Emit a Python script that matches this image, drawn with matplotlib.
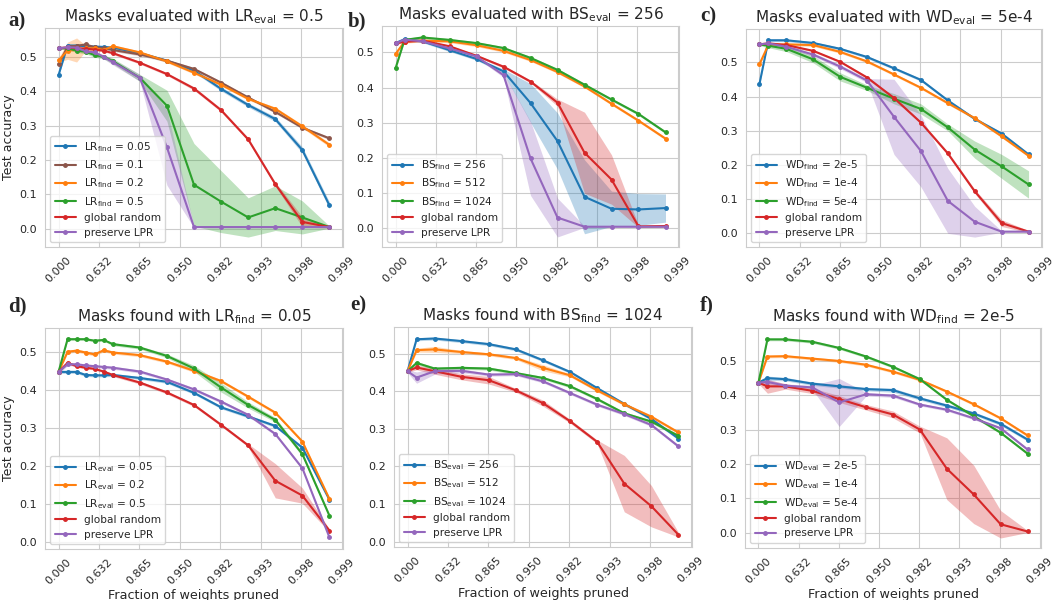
import numpy as np
import matplotlib
matplotlib.use('Agg')
import matplotlib.pyplot as plt
import seaborn as sns

sns.set_style('whitegrid')
plt.rcParams['font.family'] = ['DejaVu Sans']

# fraction of weights pruned at each evaluation point
frac_dense = [0.0, 0.2, 0.36, 0.488, 0.5904, 0.67232, 0.737856, 0.865782, 0.931281,
              0.964816, 0.981986, 0.990777, 0.995278, 0.997582, 0.998762]
frac_sparse = [0.0, 0.2, 0.488, 0.737856, 0.865782, 0.931281, 0.964816, 0.981986,
               0.990777, 0.995278, 0.997582, 0.998762]

# a) masks evaluated with LR_eval = 0.5
a_lr005 = [0.447, 0.533, 0.533, 0.531, 0.530, 0.529, 0.527, 0.511, 0.489, 0.460, 0.407, 0.360, 0.319, 0.229, 0.068]
a_lr01 = [0.478, 0.530, 0.532, 0.536, 0.528, 0.525, 0.520, 0.507, 0.489, 0.465, 0.425, 0.382, 0.340, 0.294, 0.263]
a_lr02 = [0.490, 0.518, 0.520, 0.525, 0.525, 0.520, 0.531, 0.513, 0.487, 0.454, 0.419, 0.378, 0.349, 0.298, 0.244]
a_lr05 = [0.525, 0.525, 0.518, 0.515, 0.505, 0.500, 0.488, 0.439, 0.358, 0.128, 0.079, 0.033, 0.060, 0.033, 0.005]
a_rand = [0.525, 0.528, 0.525, 0.524, 0.521, 0.518, 0.511, 0.483, 0.450, 0.408, 0.345, 0.260, 0.130, 0.020, 0.005]
a_lpr = [0.525, 0.528, 0.527, 0.516, 0.513, 0.500, 0.485, 0.439, 0.237, 0.005, 0.005, 0.005, 0.005, 0.005, 0.005]
a_lr005_sd = [0.003, 0.003, 0.003, 0.003, 0.003, 0.003, 0.003, 0.004, 0.004, 0.005, 0.006, 0.006, 0.007, 0.009, 0.010]
a_lr02_sd = [0.006, 0.025, 0.035, 0.008, 0.005, 0.004, 0.004, 0.004, 0.004, 0.004, 0.004, 0.004, 0.005, 0.005, 0.006]
a_lr05_sd = [0.003, 0.004, 0.005, 0.006, 0.006, 0.006, 0.008, 0.010, 0.045, 0.120, 0.090, 0.057, 0.065, 0.048, 0.003]
a_rand_sd = [0.003, 0.003, 0.003, 0.003, 0.003, 0.003, 0.004, 0.004, 0.004, 0.005, 0.005, 0.005, 0.006, 0.015, 0.003]
a_lpr_sd = [0.003, 0.003, 0.003, 0.005, 0.005, 0.006, 0.008, 0.010, 0.110, 0.002, 0.002, 0.002, 0.002, 0.002, 0.002]

# b) masks evaluated with BS_eval = 256
b_256 = [0.526, 0.537, 0.531, 0.506, 0.481, 0.446, 0.356, 0.248, 0.090, 0.056, 0.054, 0.058]
b_512 = [0.495, 0.530, 0.533, 0.531, 0.520, 0.504, 0.478, 0.444, 0.403, 0.354, 0.306, 0.255]
b_1024 = [0.454, 0.535, 0.542, 0.535, 0.526, 0.512, 0.484, 0.450, 0.408, 0.366, 0.325, 0.273]
b_rand = [0.525, 0.530, 0.533, 0.517, 0.490, 0.459, 0.417, 0.357, 0.215, 0.139, 0.006, 0.007]
b_lpr = [0.525, 0.536, 0.531, 0.511, 0.488, 0.435, 0.199, 0.031, 0.005, 0.005, 0.005, 0.005]
b_256_sd = [0.003, 0.004, 0.004, 0.004, 0.004, 0.006, 0.055, 0.080, 0.105, 0.050, 0.045, 0.040]
b_rand_sd = [0.003, 0.003, 0.003, 0.003, 0.003, 0.004, 0.004, 0.010, 0.115, 0.070, 0.003, 0.003]
b_lpr_sd = [0.003, 0.003, 0.003, 0.003, 0.004, 0.006, 0.105, 0.055, 0.002, 0.002, 0.002, 0.002]

# c) masks evaluated with WD_eval = 5e-4
c_2e5 = [0.437, 0.565, 0.565, 0.557, 0.540, 0.516, 0.483, 0.449, 0.389, 0.335, 0.292, 0.231]
c_1e4 = [0.495, 0.552, 0.553, 0.551, 0.531, 0.503, 0.465, 0.426, 0.381, 0.337, 0.284, 0.227]
c_5e4 = [0.553, 0.549, 0.540, 0.509, 0.458, 0.426, 0.394, 0.364, 0.310, 0.245, 0.196, 0.143]
c_rand = [0.553, 0.556, 0.551, 0.534, 0.502, 0.456, 0.396, 0.324, 0.234, 0.123, 0.030, 0.005]
c_lpr = [0.553, 0.556, 0.546, 0.523, 0.488, 0.447, 0.341, 0.241, 0.095, 0.034, 0.005, 0.005]
c_5e4_sd = [0.003, 0.006, 0.008, 0.010, 0.012, 0.008, 0.015, 0.015, 0.010, 0.025, 0.035, 0.040]
c_rand_sd = [0.003, 0.003, 0.003, 0.003, 0.003, 0.004, 0.004, 0.004, 0.005, 0.006, 0.010, 0.003]
c_lpr_sd = [0.003, 0.003, 0.004, 0.005, 0.006, 0.006, 0.110, 0.105, 0.095, 0.045, 0.002, 0.002]

# d) masks found with LR_find = 0.05
d_005 = [0.447, 0.447, 0.447, 0.439, 0.438, 0.438, 0.439, 0.431, 0.421, 0.392, 0.354, 0.330, 0.305, 0.248, 0.111]
d_02 = [0.447, 0.500, 0.503, 0.498, 0.493, 0.504, 0.498, 0.491, 0.474, 0.450, 0.423, 0.382, 0.340, 0.264, 0.113]
d_05 = [0.447, 0.533, 0.533, 0.533, 0.529, 0.531, 0.520, 0.511, 0.489, 0.456, 0.406, 0.360, 0.321, 0.231, 0.069]
d_rand = [0.447, 0.471, 0.462, 0.458, 0.455, 0.448, 0.439, 0.419, 0.393, 0.360, 0.308, 0.254, 0.161, 0.122, 0.030]
d_lpr = [0.447, 0.467, 0.467, 0.464, 0.462, 0.460, 0.458, 0.448, 0.427, 0.401, 0.369, 0.334, 0.284, 0.194, 0.012]
d_05_sd = [0.003, 0.003, 0.003, 0.003, 0.003, 0.003, 0.004, 0.004, 0.005, 0.008, 0.012, 0.008, 0.006, 0.006, 0.005]
d_rand_sd = [0.003, 0.003, 0.003, 0.003, 0.003, 0.003, 0.004, 0.004, 0.004, 0.004, 0.004, 0.004, 0.045, 0.020, 0.004]

# e) masks found with BS_find = 1024
e_256 = [0.453, 0.538, 0.540, 0.533, 0.525, 0.511, 0.482, 0.451, 0.408, 0.366, 0.326, 0.274]
e_512 = [0.453, 0.509, 0.511, 0.504, 0.498, 0.488, 0.462, 0.442, 0.402, 0.365, 0.332, 0.290]
e_1024 = [0.453, 0.475, 0.460, 0.462, 0.460, 0.448, 0.435, 0.413, 0.379, 0.341, 0.319, 0.281]
e_rand = [0.453, 0.463, 0.453, 0.438, 0.429, 0.402, 0.368, 0.320, 0.265, 0.154, 0.094, 0.018]
e_lpr = [0.453, 0.436, 0.453, 0.454, 0.444, 0.445, 0.426, 0.395, 0.364, 0.339, 0.310, 0.253]
e_512_sd = [0.003, 0.005, 0.008, 0.004, 0.004, 0.004, 0.008, 0.004, 0.004, 0.004, 0.004, 0.004]
e_rand_sd = [0.003, 0.006, 0.008, 0.008, 0.010, 0.005, 0.008, 0.005, 0.005, 0.075, 0.055, 0.006]
e_lpr_sd = [0.004, 0.015, 0.008, 0.005, 0.004, 0.004, 0.004, 0.004, 0.004, 0.004, 0.004, 0.004]

# f) masks found with WD_find = 2e-5
f_2e5 = [0.437, 0.450, 0.447, 0.434, 0.426, 0.418, 0.415, 0.391, 0.370, 0.347, 0.317, 0.271]
f_1e4 = [0.437, 0.513, 0.514, 0.507, 0.500, 0.489, 0.469, 0.445, 0.411, 0.374, 0.333, 0.283]
f_5e4 = [0.437, 0.563, 0.563, 0.556, 0.538, 0.513, 0.483, 0.447, 0.387, 0.339, 0.291, 0.230]
f_rand = [0.437, 0.426, 0.426, 0.413, 0.389, 0.365, 0.344, 0.300, 0.186, 0.111, 0.024, 0.003]
f_lpr = [0.437, 0.439, 0.428, 0.423, 0.379, 0.403, 0.399, 0.373, 0.358, 0.333, 0.304, 0.242]
f_2e5_sd = [0.004, 0.006, 0.005, 0.005, 0.005, 0.005, 0.006, 0.005, 0.005, 0.005, 0.005, 0.005]
f_rand_sd = [0.003, 0.020, 0.008, 0.008, 0.010, 0.008, 0.010, 0.010, 0.090, 0.085, 0.040, 0.003]
f_lpr_sd = [0.003, 0.008, 0.005, 0.006, 0.070, 0.005, 0.005, 0.004, 0.004, 0.004, 0.004, 0.004]

THIN = 0.004
BLUE, ORANGE, GREEN, RED, PURPLE, BROWN = '#1f77b4', '#ff7f0e', '#2ca02c', '#d62728', '#9467bd', '#8c564b'

panels = [
    ('a)', r'Masks evaluated with LR$_\mathrm{eval}$ = 0.5', frac_dense, [
        (r'LR$_\mathrm{find}$ = 0.05', BLUE, a_lr005, a_lr005_sd),
        (r'LR$_\mathrm{find}$ = 0.1', BROWN, a_lr01, None),
        (r'LR$_\mathrm{find}$ = 0.2', ORANGE, a_lr02, a_lr02_sd),
        (r'LR$_\mathrm{find}$ = 0.5', GREEN, a_lr05, a_lr05_sd),
        ('global random', RED, a_rand, a_rand_sd),
        ('preserve LPR', PURPLE, a_lpr, a_lpr_sd)]),
    ('b)', r'Masks evaluated with BS$_\mathrm{eval}$ = 256', frac_sparse, [
        (r'BS$_\mathrm{find}$ = 256', BLUE, b_256, b_256_sd),
        (r'BS$_\mathrm{find}$ = 512', ORANGE, b_512, None),
        (r'BS$_\mathrm{find}$ = 1024', GREEN, b_1024, None),
        ('global random', RED, b_rand, b_rand_sd),
        ('preserve LPR', PURPLE, b_lpr, b_lpr_sd)]),
    ('c)', r'Masks evaluated with WD$_\mathrm{eval}$ = 5e-4', frac_sparse, [
        (r'WD$_\mathrm{find}$ = 2e-5', BLUE, c_2e5, None),
        (r'WD$_\mathrm{find}$ = 1e-4', ORANGE, c_1e4, None),
        (r'WD$_\mathrm{find}$ = 5e-4', GREEN, c_5e4, c_5e4_sd),
        ('global random', RED, c_rand, c_rand_sd),
        ('preserve LPR', PURPLE, c_lpr, c_lpr_sd)]),
    ('d)', r'Masks found with LR$_\mathrm{find}$ = 0.05', frac_dense, [
        (r'LR$_\mathrm{eval}$ = 0.05', BLUE, d_005, None),
        (r'LR$_\mathrm{eval}$ = 0.2', ORANGE, d_02, None),
        (r'LR$_\mathrm{eval}$ = 0.5', GREEN, d_05, d_05_sd),
        ('global random', RED, d_rand, d_rand_sd),
        ('preserve LPR', PURPLE, d_lpr, None)]),
    ('e)', r'Masks found with BS$_\mathrm{find}$ = 1024', frac_sparse, [
        (r'BS$_\mathrm{eval}$ = 256', BLUE, e_256, None),
        (r'BS$_\mathrm{eval}$ = 512', ORANGE, e_512, e_512_sd),
        (r'BS$_\mathrm{eval}$ = 1024', GREEN, e_1024, None),
        ('global random', RED, e_rand, e_rand_sd),
        ('preserve LPR', PURPLE, e_lpr, e_lpr_sd)]),
    ('f)', r'Masks found with WD$_\mathrm{find}$ = 2e-5', frac_sparse, [
        (r'WD$_\mathrm{eval}$ = 2e-5', BLUE, f_2e5, f_2e5_sd),
        (r'WD$_\mathrm{eval}$ = 1e-4', ORANGE, f_1e4, None),
        (r'WD$_\mathrm{eval}$ = 5e-4', GREEN, f_5e4, None),
        ('global random', RED, f_rand, f_rand_sd),
        ('preserve LPR', PURPLE, f_lpr, f_lpr_sd)]),
]

# axes boxes in pixels: left, top, right, bottom
boxes = [(45, 28, 343, 247), (382, 26, 679, 247), (746, 29, 1042, 247),
         (45, 328, 343, 549), (394, 327, 692, 547), (745, 328, 1041, 548)]
letter_pos = [(8, 26), (348, 26), (700, 21), (8, 311), (350, 310), (700, 310)]

W, H = 1052, 600


def fwd(f):
    f = np.asarray(f, dtype=float)
    return -np.log(np.clip(1 - f, 1e-9, None))


def inv(x):
    return 1 - np.exp(-np.asarray(x, dtype=float))


tick_pos = 1 - np.exp(-np.arange(8))
tick_lab = ['%.3f' % t for t in tick_pos]

fig = plt.figure(figsize=(W / 100, H / 100), dpi=100)

for i, (letter, title, frac, series) in enumerate(panels):
    l, t, r, b = boxes[i]
    ax = fig.add_axes([l / W, 1 - b / H, (r - l) / W, (b - t) / H])
    ax.set_xscale('function', functions=(fwd, inv))
    for label, col, mean, sd in series:
        mean = np.array(mean)
        sd = np.full(len(mean), THIN) if sd is None else np.array(sd)
        ax.fill_between(frac, mean - sd, mean + sd, color=col, alpha=0.3, lw=0)
        ax.plot(frac, mean, '.-', color=col, lw=1.5, ms=5, label=label)
    ax.set_xticks(tick_pos)
    ax.set_xticklabels(tick_lab, rotation=45)
    ax.tick_params(labelsize=8, pad=2)
    ax.set_title(title, fontsize=11, pad=5)
    if i % 3 == 0:
        ax.set_ylabel('Test accuracy', fontsize=9, labelpad=3)
    if i >= 3:
        ax.set_xlabel('Fraction of weights pruned', fontsize=9.2, labelpad=2)
    ax.legend(loc='lower left', fontsize=7.6, frameon=True, handlelength=2.0,
              labelspacing=0.42, borderpad=0.4)
    lx, ly = letter_pos[i]
    fig.text(lx / W, 1 - ly / H, letter, fontsize=15, fontweight='bold',
             family='Liberation Serif', va='baseline')

plt.savefig('out.png', dpi=100)
plt.close()
